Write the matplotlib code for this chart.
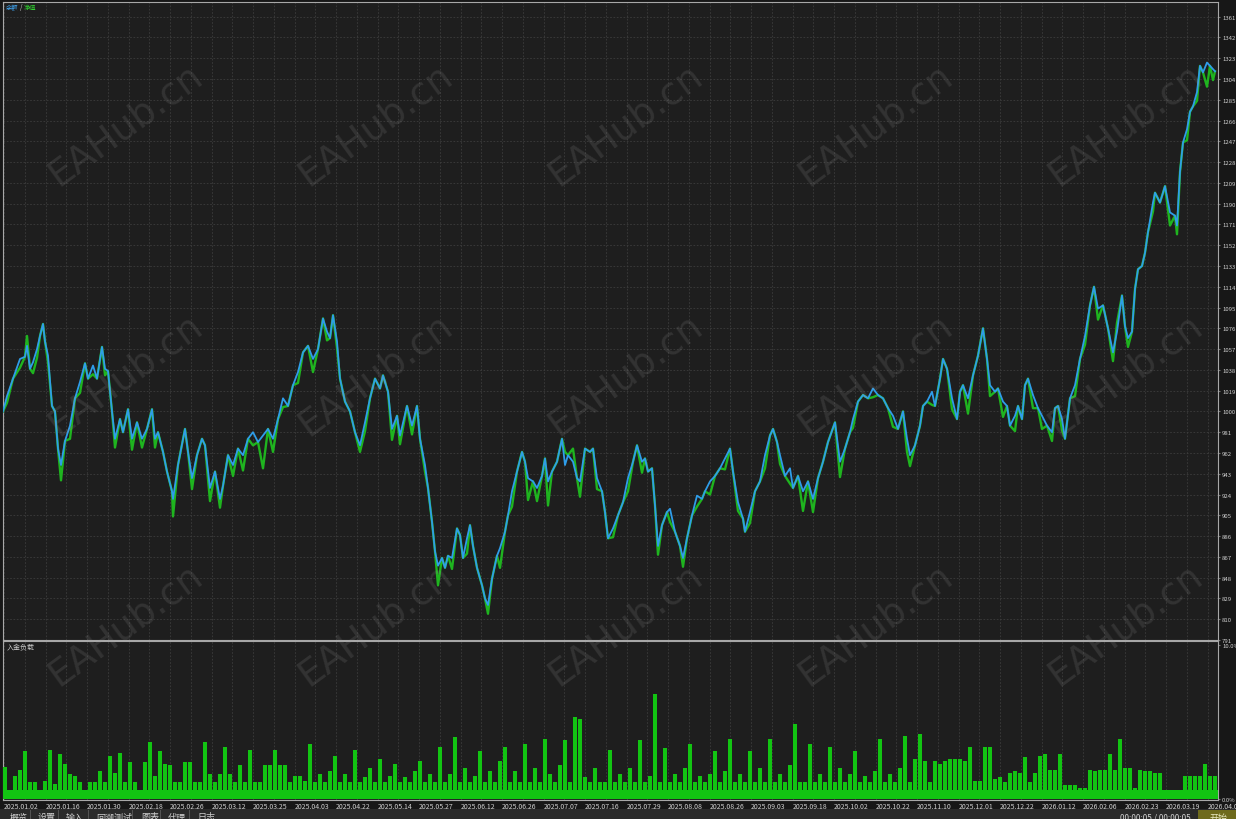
import matplotlib
matplotlib.use("Agg")
import matplotlib.pyplot as plt
import numpy as np
from matplotlib.patches import Rectangle

plt.rcParams['font.family'] = ['Noto Sans CJK SC', 'DejaVu Sans']

# balance curve (deal position along the axis, balance)
deal = [
    3, 7, 13, 20, 25, 27, 30, 33, 37, 40,
    43, 45, 48, 52, 55, 58, 61, 65, 70, 75,
    80, 85, 88, 93, 97, 102, 105, 108, 112, 115,
    120, 123, 128, 132, 137, 142, 147, 152, 155, 158,
    163, 167, 172, 173, 178, 185, 188, 192, 197, 202,
    205, 210, 215, 220, 223, 228, 233, 238, 243, 248,
    253, 258, 263, 268, 273, 278, 283, 288, 293, 298,
    303, 308, 313, 318, 323, 327, 330, 333, 337, 340,
    345, 350, 355, 360, 365, 370, 375, 380, 383, 388,
    392, 397, 400, 407, 412, 417, 420, 425, 428, 432,
    435, 438, 442, 445, 448, 452, 457, 460, 463, 467,
    470, 473, 477, 482, 485, 488, 492, 497, 500, 505,
    508, 512, 517, 522, 525, 528, 533, 537, 542, 545,
    548, 552, 557, 562, 565, 568, 573, 577, 580, 585,
    590, 593, 597, 602, 605, 608, 613, 618, 623, 628,
    633, 637, 642, 645, 648, 652, 655, 658, 662, 667,
    670, 675, 680, 683, 687, 692, 697, 702, 705, 710,
    715, 720, 725, 730, 733, 738, 743, 745, 750, 755,
    760, 765, 770, 773, 777, 780, 785, 790, 793, 798,
    803, 808, 813, 818, 823, 828, 835, 840, 845, 850,
    853, 858, 863, 868, 873, 878, 883, 888, 893, 898,
    903, 907, 910, 915, 920, 923, 927, 932, 935, 940,
    943, 947, 952, 957, 960, 963, 968, 973, 978, 983,
    987, 990, 995, 998, 1003, 1007, 1010, 1015, 1018, 1022,
    1025, 1028, 1033, 1038, 1042, 1047, 1052, 1055, 1058, 1062,
    1065, 1070, 1075, 1080, 1085, 1090, 1094, 1098, 1103, 1108,
    1113, 1117, 1122, 1125, 1128, 1132, 1135, 1138, 1142, 1145,
    1148, 1153, 1155, 1160, 1165, 1170, 1175, 1177, 1180, 1183,
    1187, 1190, 1193, 1197, 1200, 1203, 1207, 1210, 1213, 1215,
]
balance = [
    1000, 1014, 1030, 1048, 1050, 1060, 1039, 1045, 1057, 1069,
    1080, 1064, 1051, 1005, 1000, 966, 951, 973, 987, 1012,
    1027, 1044, 1030, 1042, 1030, 1059, 1039, 1037, 1000, 975,
    993, 981, 1002, 975, 990, 975, 984, 1002, 975, 981,
    963, 945, 927, 920, 951, 984, 963, 939, 960, 975,
    969, 930, 945, 920, 932, 960, 951, 966, 960, 975,
    981, 972, 978, 984, 975, 993, 1012, 1005, 1024, 1036,
    1054, 1060, 1048, 1057, 1085, 1073, 1067, 1088, 1064, 1030,
    1009, 1000, 981, 969, 990, 1012, 1030, 1021, 1033, 1018,
    984, 996, 978, 1005, 987, 1005, 975, 951, 930, 899,
    872, 859, 866, 857, 868, 866, 893, 887, 866, 884,
    896, 877, 857, 841, 829, 823, 847, 868, 875, 890,
    905, 927, 945, 963, 954, 939, 936, 930, 941, 957,
    936, 945, 954, 975, 951, 960, 954, 939, 936, 966,
    963, 966, 939, 927, 908, 884, 893, 905, 917, 939,
    954, 969, 954, 957, 945, 948, 914, 877, 896, 908,
    911, 890, 877, 866, 884, 905, 923, 920, 927, 936,
    941, 948, 957, 966, 945, 917, 902, 890, 908, 927,
    936, 960, 978, 984, 972, 960, 941, 948, 930, 941,
    927, 936, 920, 939, 954, 972, 990, 954, 966, 981,
    993, 1009, 1015, 1012, 1021, 1015, 1012, 1003, 996, 984,
    1000, 975, 960, 969, 987, 1005, 1009, 1018, 1005, 1030,
    1048, 1039, 1012, 993, 1018, 1024, 1012, 1033, 1051, 1076,
    1048, 1024, 1018, 1021, 1009, 1005, 987, 996, 1005, 993,
    1024, 1030, 1015, 1003, 996, 987, 981, 1003, 1005, 993,
    975, 1012, 1024, 1048, 1069, 1097, 1114, 1094, 1097, 1076,
    1054, 1073, 1106, 1078, 1067, 1073, 1112, 1130, 1133, 1145,
    1164, 1191, 1200, 1191, 1206, 1182, 1179, 1170, 1219, 1246,
    1258, 1274, 1279, 1292, 1316, 1310, 1319, 1316, 1313, 1311,
]
# floating loss (balance - equity) at the deals where the green line shows
equity_dip = {
    7: 6, 20: 8, 27: -9, 33: 10, 37: 8, 48: 6, 61: 14, 70: 12, 80: 10,
    93: 8, 105: 6, 115: 8, 132: 10, 142: 8, 155: 8, 173: 16, 192: 10,
    210: 12, 220: 8, 233: 10, 243: 14, 253: 12, 263: 30, 273: 12, 283: 8,
    298: 10, 313: 12, 327: 8, 337: 6, 360: 6, 365: 8, 392: 10, 400: 8,
    412: 8, 425: 6, 438: 18, 452: 10, 467: 14, 488: 8, 500: 18, 512: 14,
    528: 20, 537: 12, 548: 22, 565: -12, 573: -12, 580: 14, 597: 10,
    613: 8, 628: 12, 642: 10, 658: 8, 670: 12, 683: 8, 697: 10, 710: 12,
    725: 10, 738: 8, 750: 10, 765: 12, 780: 8, 790: 14, 803: 18, 813: 12,
    840: 14, 853: 8, 873: 8, 893: 10, 907: 12, 910: 10, 932: 12, 952: 10,
    968: 14, 990: 10, 1003: 14, 1015: 14, 1033: 12, 1042: 12, 1052: 8,
    1062: 10, 1075: 10, 1085: 8, 1098: 10, 1113: 8, 1117: -8, 1128: 8,
    1153: 8, 1170: 12, 1177: 8, 1187: 10, 1197: 8, 1207: 22, 1213: 10,
}

# deposit load in %, one value per 5 deals, and the steady floor under it
base_load = 0.6
deposit_load = [
    2.1, 0.6, 1.5, 1.9, 3.1, 1.1, 1.1, 0.6, 1.2, 3.2, 1.0, 2.9, 2.3, 1.6, 1.5, 1.1, 0.6, 1.1, 1.1, 1.8,
    1.1, 2.8, 1.7, 3.0, 1.1, 2.4, 1.1, 0.6, 2.4, 3.7, 1.5, 3.1, 2.3, 2.2, 1.1, 1.1, 2.4, 2.4, 1.1, 1.1,
    3.7, 1.6, 1.1, 1.6, 3.4, 1.6, 1.1, 2.2, 1.1, 3.2, 1.1, 1.1, 2.2, 2.2, 3.2, 2.2, 2.2, 1.1, 1.5, 1.5,
    1.2, 3.6, 1.1, 1.6, 1.1, 1.8, 2.8, 1.1, 1.6, 1.1, 3.2, 1.1, 1.4, 2.0, 1.1, 2.6, 1.1, 1.5, 2.3, 1.1,
    1.4, 1.1, 1.8, 2.5, 1.1, 1.6, 1.1, 3.4, 1.1, 1.6, 4.0, 1.1, 2.0, 1.1, 1.5, 3.1, 1.1, 1.8, 1.1, 2.5,
    3.4, 1.1, 1.8, 1.1, 3.6, 1.1, 2.0, 1.1, 3.9, 1.6, 1.1, 2.2, 3.8, 1.1, 5.3, 5.2, 1.4, 1.1, 2.0, 1.1,
    1.1, 3.2, 1.1, 1.6, 1.1, 2.0, 1.1, 3.8, 1.1, 1.5, 6.8, 1.1, 3.3, 1.1, 1.6, 1.1, 2.0, 3.6, 1.1, 1.5,
    1.1, 1.6, 3.1, 1.1, 1.8, 3.9, 1.1, 1.6, 1.1, 3.1, 1.1, 2.0, 1.1, 3.9, 1.1, 1.6, 1.1, 2.2, 4.9, 1.1,
    1.1, 3.6, 1.1, 1.6, 1.1, 3.4, 1.1, 2.0, 1.1, 1.6, 3.1, 1.1, 1.5, 1.1, 1.8, 3.9, 1.1, 1.6, 1.1, 2.0,
    4.1, 1.1, 2.6, 4.2, 2.5, 1.1, 2.5, 2.3, 2.5, 2.6, 2.6, 2.6, 2.5, 3.4, 1.2, 1.2, 3.4, 3.4, 1.3, 1.4,
    1.1, 1.7, 1.8, 1.7, 2.7, 1.1, 1.7, 2.8, 2.9, 1.9, 1.9, 2.9, 0.9, 0.9, 0.9, 0.7, 0.7, 1.9, 1.8, 1.9,
    1.9, 2.9, 1.9, 3.9, 2.0, 2.0, 0.7, 1.9, 1.8, 1.8, 1.7, 1.7, 0.6, 0.6, 0.6, 0.6, 1.5, 1.5, 1.5, 1.5,
    2.3, 1.5, 1.5,
]

date_labels = [
    "2025.01.02", "2025.01.16", "2025.01.30", "2025.02.18", "2025.02.26",
    "2025.03.12", "2025.03.25", "2025.04.03", "2025.04.22", "2025.05.14",
    "2025.05.27", "2025.06.12", "2025.06.26", "2025.07.07", "2025.07.16",
    "2025.07.29", "2025.08.08", "2025.08.26", "2025.09.03", "2025.09.18",
    "2025.10.02", "2025.10.22", "2025.11.10", "2025.12.01", "2025.12.22",
    "2026.01.12", "2026.02.06", "2026.02.23", "2026.03.19", "2026.04.02",
]
tab_labels = ["概览", "设置", "输入", "回溯测试", "图表", "代理", "日志"]

W, H = 1236, 820
BG = "#1e1e1e"
TXT = "#cfcfcf"
EDGE = "#a8a8a8"
GRID = "#3d3d3d"
LOAD = "#12c412"


def box(x0, y0, x1, y1):
    # pixel box (top-left origin) -> figure fraction
    return [x0 / W, 1 - y1 / H, (x1 - x0) / W, (y1 - y0) / H]


fig = plt.figure(figsize=(W / 100, H / 100), dpi=100, facecolor="#171717")
ax = fig.add_axes(box(3, 3, 1218, 641), facecolor=BG)
sub = fig.add_axes(box(3, 642, 1218, 801), facecolor=BG)

equity = [b - equity_dip.get(d, 0) for d, b in zip(deal, balance)]
ax.plot(deal, equity, color="#1fb41f", lw=1.7, zorder=3)
ax.plot(deal, balance, color="#2f9de9", lw=1.3, zorder=4)

grid_x = np.arange(4, 1218, 20.75)
label_x = grid_x[::2][:len(date_labels)]

ax.set_xlim(3, 1218)
ax.set_ylim(791.6, 1374.4)
ax.set_yticks(np.arange(791, 1362, 19))
ax.set_xticks(grid_x)
ax.tick_params(axis="x", length=0, labelbottom=False)
ax.yaxis.tick_right()
ax.tick_params(axis="y", length=1.5, pad=1.5, labelsize=4.3, colors=TXT, color="#777777")
ax.set_axisbelow(True)
ax.grid(True, color=GRID, linestyle=(0, (2, 2)), linewidth=0.6)

load_x = np.arange(5, 5 + 5 * len(deposit_load), 5)
sub.fill_between([3, 1218], 0, base_load, color=LOAD, linewidth=0, zorder=3)
sub.bar(load_x, deposit_load, width=3.2, color=LOAD, linewidth=0, zorder=3)
sub.set_xlim(3, 1218)
sub.set_ylim(-0.065, 10.26)
sub.set_yticks([0, 10])
sub.set_yticklabels(["0.0%", "10.0%"])
sub.yaxis.tick_right()
sub.tick_params(axis="y", length=1.5, pad=1.5, labelsize=4.3, colors=TXT, color="#777777")
sub.set_xticks(label_x)
sub.set_xticklabels(date_labels, ha="left")
sub.set_xticks(grid_x, minor=True)
sub.tick_params(axis="x", which="both", length=0, pad=1.5, labelsize=5, colors=TXT)
sub.set_axisbelow(True)
sub.grid(True, axis="x", which="both", color=GRID, linestyle=(0, (2, 2)), linewidth=0.6)
sub.text(0.003, 0.985, "入金负载", transform=sub.transAxes, fontsize=5,
         color=TXT, va="top", ha="left")

for a in (ax, sub):
    for s in a.spines.values():
        s.set_color(EDGE)
        s.set_linewidth(0.8)

# legend top-left
fig.text(6 / W, 1 - 8 / H, "余额", fontsize=4.5, color="#3fa7f5", va="center")
fig.text(20 / W, 1 - 8 / H, "/", fontsize=4.5, color=TXT, va="center")
fig.text(24 / W, 1 - 8 / H, "净值", fontsize=4.5, color="#2fd02f", va="center")

# watermark
for cy in (125, 375, 625):
    for cx in (125, 375, 625, 875, 1125):
        fig.text(cx / W, 1 - cy / H, "EAHub.cn", rotation=36, fontsize=27,
                 color="#a0a0a0", alpha=0.16, ha="center", va="center",
                 rotation_mode="anchor", family="DejaVu Sans", zorder=10)

# bottom tab strip
fig.patches.append(Rectangle(box(0, 810, W, 820)[:2], 1, 10 / H,
                             transform=fig.transFigure, facecolor="#2a2a2a",
                             edgecolor="none", zorder=0))
tab_x = [10, 38, 66, 96, 141, 168, 197]
for tx, lab in zip(tab_x, tab_labels):
    fig.text(tx / W, 1 - 818 / H, lab, fontsize=6.5, color=TXT, va="center")
for sx in (30, 58, 88, 132, 160, 189):
    fig.lines.append(plt.Line2D([sx / W, sx / W], [0, 9 / H], color="#555555",
                                lw=0.7, transform=fig.transFigure))
fig.text(1120 / W, 1 - 818 / H, "00:00:05 / 00:00:05", fontsize=6, color=TXT,
         va="center")
fig.patches.append(Rectangle((1198 / W, 0), 38 / W, 9 / H,
                             transform=fig.transFigure, facecolor="#6e6a1c",
                             edgecolor="none", zorder=0))
fig.text(1210 / W, 1 - 818 / H, "开始", fontsize=6.5, color="#e8e8c0", va="center")

fig.savefig("out.png", dpi=100, facecolor=fig.get_facecolor())
